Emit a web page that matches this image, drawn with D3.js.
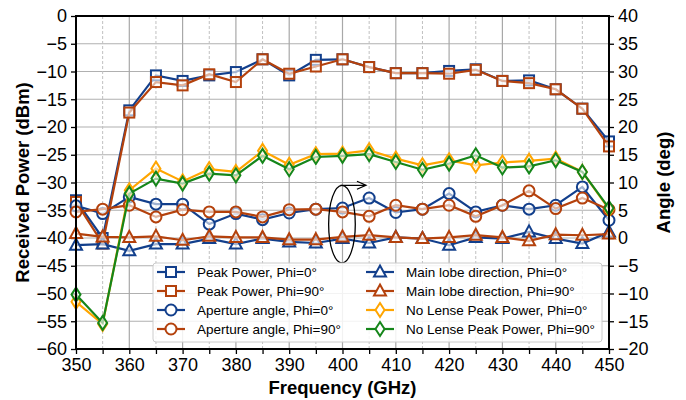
<!DOCTYPE html>
<html>
<head>
<meta charset="utf-8">
<script src="https://cdn.jsdelivr.net/npm/d3@7"></script>
<style>
  body { margin: 0; background: #fff; }
  text { font-family: "Liberation Sans", Arial, sans-serif; }
</style>
</head>
<body>
<div id="chart"></div>
<script>
// frequency points (GHz)
var freqs = [350, 355, 360, 365, 370, 375, 380, 385, 390, 395, 400, 405, 410, 415, 420, 425, 430, 435, 440, 445, 450];

// received power (dBm), left axis
var peakPhi0  = [-33.2, -40.0, -17.0, -10.7, -11.7, -10.7, -10.1, -7.8, -10.7, -7.9, -7.8, -9.2, -10.3, -10.3, -9.9, -9.6, -11.7, -11.6, -13.2, -16.7, -22.6];
var peakPhi90 = [-33.5, -41.0, -17.4, -11.9, -12.5, -10.5, -11.9, -7.8, -10.4, -9.1, -7.8, -9.2, -10.3, -10.3, -10.4, -9.7, -11.7, -12.1, -13.2, -16.7, -23.5];
var noLensPhi0  = [-51.5, -55.5, -31.4, -27.5, -29.8, -27.6, -28.1, -24.3, -26.8, -24.9, -24.8, -24.2, -25.7, -26.9, -26.0, -26.9, -26.4, -26.1, -25.7, -28.1, -34.8];
var noLensPhi90 = [-50.2, -55.3, -32.0, -29.3, -30.2, -28.4, -28.7, -25.2, -27.6, -25.4, -25.2, -24.9, -26.3, -27.7, -26.6, -25.1, -27.3, -27.1, -26.0, -28.1, -34.6];

// angles (deg), right axis
var aperturePhi0  = [5.8, 4.4, 7.4, 6.1, 6.1, 2.5, 4.4, 3.3, 4.5, 5.2, 5.4, 7.2, 4.6, 5.2, 8.0, 4.7, 5.9, 5.2, 5.9, 9.2, 3.2];
var aperturePhi90 = [4.7, 5.2, 5.9, 3.8, 5.1, 4.7, 4.7, 3.8, 5.1, 5.2, 4.7, 3.9, 5.9, 5.2, 5.9, 3.9, 5.9, 8.5, 5.3, 7.2, 5.1];
var lobePhi0  = [-1.3, -1.1, -2.3, -1.1, -1.1, -0.1, -1.1, -0.1, -0.7, -0.9, -0.1, -0.9, 0.1, -0.1, -1.3, 0.1, -0.1, 1.1, -0.1, -1.0, 1.1];
var lobePhi90 = [0.8, 0.2, 0.1, 0.3, -0.4, 0.3, 0.1, 0.1, -0.3, -0.3, 0.2, 0.5, 0.1, -0.1, 0.1, 0.5, 0.1, -0.5, 0.6, 0.5, 0.7];

var xTicks = [350, 360, 370, 380, 390, 400, 410, 420, 430, 440, 450];
var powerTicks = [0, -5, -10, -15, -20, -25, -30, -35, -40, -45, -50, -55, -60];
var angleTicks = [40, 35, 30, 25, 20, 15, 10, 5, 0, -5, -10, -15, -20];

var blue = "#123f8c", brown = "#b4410c", gold = "#ffa500", green = "#15861a";

var series = [
  {name: "Peak Power, Phi=0\u00b0", values: peakPhi0, axis: "L", color: blue, marker: "square"},
  {name: "Peak Power, Phi=90\u00b0", values: peakPhi90, axis: "L", color: brown, marker: "square"},
  {name: "Aperture angle, Phi=0\u00b0", values: aperturePhi0, axis: "R", color: blue, marker: "circle"},
  {name: "Aperture angle, Phi=90\u00b0", values: aperturePhi90, axis: "R", color: brown, marker: "circle"},
  {name: "Main lobe direction, Phi=0\u00b0", values: lobePhi0, axis: "R", color: blue, marker: "triangle"},
  {name: "Main lobe direction, Phi=90\u00b0", values: lobePhi90, axis: "R", color: brown, marker: "triangle"},
  {name: "No Lense Peak Power, Phi=0\u00b0", values: noLensPhi0, axis: "L", color: gold, marker: "diamond"},
  {name: "No Lense Peak Power, Phi=90\u00b0", values: noLensPhi90, axis: "L", color: green, marker: "diamond"}
];

var svgWidth = 686, svgHeight = 400;
var margin = {top: 16, right: 77, bottom: 51, left: 76};
var width = svgWidth - margin.left - margin.right;
var height = svgHeight - margin.top - margin.bottom;

var svg = d3.select("#chart").append("svg")
  .attr("width", svgWidth).attr("height", svgHeight);

var chartGroup = svg.append("g")
  .attr("transform", `translate(${margin.left}, ${margin.top})`);

var x = d3.scaleLinear().domain([350, 450]).range([0, width]);
var yL = d3.scaleLinear().domain([-60, 0]).range([height, 0]);
var yR = d3.scaleLinear().domain([-20, 40]).range([height, 0]);

// grid
var gridGroup = chartGroup.append("g");
gridGroup.selectAll(".hgrid").data(powerTicks).enter().append("line")
  .attr("x1", 0).attr("x2", width)
  .attr("y1", d => yL(d)).attr("y2", d => yL(d))
  .attr("stroke", "#b0b0b0").attr("stroke-width", 1.2);
gridGroup.selectAll(".vgrid").data(xTicks).enter().append("line")
  .attr("x1", d => x(d)).attr("x2", d => x(d))
  .attr("y1", 0).attr("y2", height)
  .attr("stroke", "#a8a8a8").attr("stroke-width", 1.2);
gridGroup.selectAll(".vminor").data(d3.range(355, 450, 10)).enter().append("line")
  .attr("x1", d => x(d)).attr("x2", d => x(d))
  .attr("y1", 0).attr("y2", height)
  .attr("stroke", "#c0c0c0").attr("stroke-width", 1)
  .attr("stroke-dasharray", "3,2");

// axes
var bottomAxis = d3.axisBottom(x).tickValues(d3.range(350, 451, 5)).tickSize(5).tickPadding(4)
  .tickFormat(d => d % 10 === 0 ? d : "");
var leftAxis = d3.axisLeft(yL).tickValues(powerTicks).tickSize(5).tickPadding(4);
var rightAxis = d3.axisRight(yR).tickValues(angleTicks).tickSize(5).tickPadding(4);

function styleAxis(g) {
  g.select(".domain").remove();
  g.selectAll(".tick line").attr("stroke", "#000").attr("stroke-width", 1.3);
  g.selectAll(".tick text").attr("font-size", "18px").attr("fill", "#000")
    .style("font-family", "'Liberation Sans', Arial, sans-serif");
}

chartGroup.append("g").attr("transform", `translate(0, ${height})`).call(bottomAxis).call(styleAxis);
chartGroup.append("g").call(leftAxis).call(styleAxis);
chartGroup.append("g").attr("transform", `translate(${width}, 0)`).call(rightAxis).call(styleAxis);

// markers
function drawMarker(g, type, cx, cy, color) {
  if (type === "square") {
    g.append("rect").attr("x", cx - 5).attr("y", cy - 5).attr("width", 10).attr("height", 10)
      .attr("fill", "#fff").attr("fill-opacity", 0.6).attr("stroke", color).attr("stroke-width", 2);
  } else if (type === "circle") {
    g.append("circle").attr("cx", cx).attr("cy", cy).attr("r", 5.5)
      .attr("fill", "#fff").attr("fill-opacity", 0.6).attr("stroke", color).attr("stroke-width", 2);
  } else if (type === "triangle") {
    g.append("path").attr("d", `M${cx},${cy - 6.5}L${cx + 6},${cy + 4.5}L${cx - 6},${cy + 4.5}Z`)
      .attr("fill", "#fff").attr("fill-opacity", 0.6).attr("stroke", color).attr("stroke-width", 2);
  } else {
    g.append("path").attr("d", `M${cx},${cy - 7}L${cx + 4.5},${cy}L${cx},${cy + 7}L${cx - 4.5},${cy}Z`)
      .attr("fill", "#fff").attr("fill-opacity", 0.6).attr("stroke", color).attr("stroke-width", 2);
  }
}

var plotGroup = chartGroup.append("g");
series.forEach(function(s) {
  var yS = s.axis === "L" ? yL : yR;
  var line = d3.line().x((d, i) => x(freqs[i])).y(d => yS(d));
  var g = plotGroup.append("g");
  g.append("path").datum(s.values).attr("d", line)
    .attr("fill", "none").attr("stroke", s.color).attr("stroke-width", 2.2);
  s.values.forEach(function(v, i) {
    drawMarker(g, s.marker, x(freqs[i]), yS(v), s.color);
  });
});

// annotation: ellipse + arrow toward right axis
chartGroup.append("ellipse")
  .attr("cx", x(399.9)).attr("cy", yR(2.5))
  .attr("rx", x(352.5) - x(350)).attr("ry", yR(0) - yR(7))
  .attr("fill", "none").attr("stroke", "#000").attr("stroke-width", 1.3);
var ay = yR(9.5), ax0 = x(399.6), ax1 = x(404.4);
chartGroup.append("path")
  .attr("d", `M${ax0},${ay}L${ax1},${ay}M${ax1 - 9},${ay - 4}L${ax1},${ay}L${ax1 - 9},${ay + 4}`)
  .attr("fill", "none").attr("stroke", "#000").attr("stroke-width", 1.3);

// frame
chartGroup.append("rect").attr("x", 0).attr("y", 0).attr("width", width).attr("height", height)
  .attr("fill", "none").attr("stroke", "#000").attr("stroke-width", 2);

// legend
var legend = chartGroup.append("g").attr("transform", `translate(${153 - margin.left}, ${263 - margin.top})`);
legend.append("rect").attr("width", 449).attr("height", 79).attr("rx", 3)
  .attr("fill", "#fff").attr("fill-opacity", 0.85).attr("stroke", "#cccccc").attr("stroke-width", 1);
series.forEach(function(s, i) {
  var col = i < 4 ? 0 : 1;
  var row = i % 4;
  var lx = col === 0 ? 4 : 213;
  var ly = 9 + row * 19;
  var g = legend.append("g");
  g.append("line").attr("x1", lx).attr("x2", lx + 28).attr("y1", ly).attr("y2", ly)
    .attr("stroke", s.color).attr("stroke-width", 2.2);
  drawMarker(g, s.marker, lx + 14, ly, s.color);
  g.select("rect, circle, path").attr("fill-opacity", 1);
  g.append("text").attr("x", lx + 40).attr("y", ly + 5)
    .attr("font-size", "13.5px").attr("fill", "#000").text(s.name);
});

// axis titles
svg.append("text").attr("x", margin.left + width / 2).attr("y", 394)
  .attr("text-anchor", "middle").attr("font-size", "18.5px").attr("font-weight", "bold")
  .text("Frequency (GHz)");
svg.append("text").attr("transform", `translate(29, ${margin.top + height / 2}) rotate(-90)`)
  .attr("text-anchor", "middle").attr("font-size", "18.5px").attr("font-weight", "bold")
  .text("Received Power (dBm)");
svg.append("text").attr("transform", `translate(670, ${margin.top + height / 2}) rotate(-90)`)
  .attr("text-anchor", "middle").attr("font-size", "18.5px").attr("font-weight", "bold")
  .text("Angle (deg)");
</script>
</body>
</html>
